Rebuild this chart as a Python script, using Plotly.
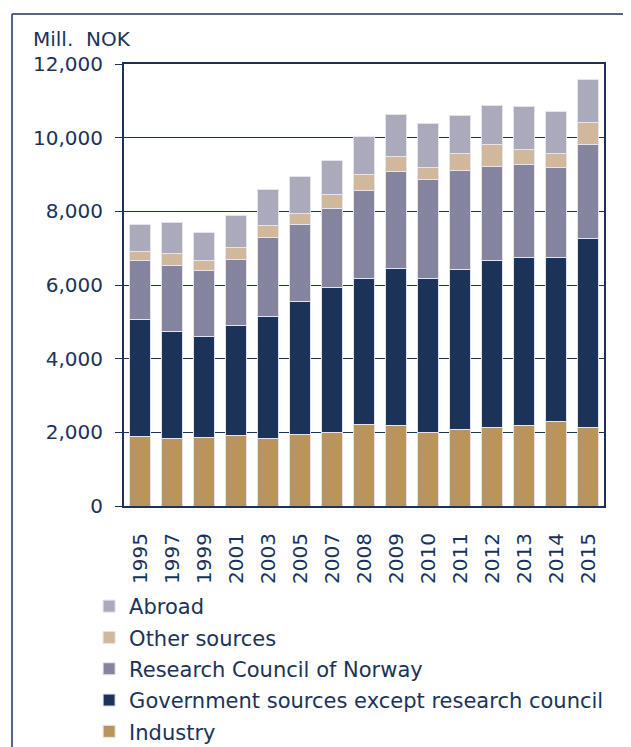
import plotly.graph_objects as go

# Funding of R&D, Mill. NOK
years = ["1995", "1997", "1999", "2001", "2003", "2005", "2007", "2008",
         "2009", "2010", "2011", "2012", "2013", "2014", "2015"]

industry = [1900, 1830, 1870, 1910, 1830, 1950, 1990, 2220,
            2190, 1990, 2070, 2140, 2190, 2300, 2140]
government = [3150, 2900, 2740, 2980, 3320, 3610, 3930, 3960,
              4250, 4200, 4360, 4530, 4560, 4440, 5110]
research_council = [1620, 1810, 1790, 1810, 2140, 2090, 2170, 2380,
                    2630, 2680, 2680, 2550, 2520, 2440, 2570]
other_sources = [230, 325, 270, 325, 320, 280, 360, 430,
                 410, 320, 470, 600, 410, 400, 600]
abroad = [750, 820, 750, 870, 985, 1020, 940, 1030,
          1150, 1190, 1030, 1060, 1160, 1140, 1170]

series = [
    ("Industry", industry, "#B9955D"),
    ("Government sources except research council", government, "#1B3359"),
    ("Research Council of Norway", research_council, "#84849F"),
    ("Other sources", other_sources, "#D1B89C"),
    ("Abroad", abroad, "#ABAABD"),
]

navy = "#1B3359"

fig = go.Figure()
for i, (name, vals, col) in enumerate(series):
    fig.add_trace(go.Bar(
        x=years, y=vals, name=name, legendgroup=name,
        legendrank=1000 - i,  # Abroad first in the legend
        marker=dict(color=col, line=dict(color="#E4E4EA", width=1)),
    ))

# the page has an 8px body margin, so the margins are set 8px smaller
fig.update_layout(
    barmode="stack",
    bargap=0.36,
    width=631, height=747,
    margin=dict(l=116, r=35, t=56, b=249, autoexpand=False),
    plot_bgcolor="white",
    paper_bgcolor="white",
    font=dict(family="DejaVu Sans", size=20, color=navy),
    legend=dict(
        traceorder="grouped",
        tracegroupgap=1,
        orientation="v",
        x=-0.0727, xanchor="left",
        y=-0.181, yanchor="top",
        font=dict(size=21, color=navy),
        itemwidth=30,
        bgcolor="rgba(0,0,0,0)",
    ),
    annotations=[dict(
        text="Mill.  NOK", xref="paper", yref="paper",
        x=-0.1937, y=1.0566, xanchor="left", yanchor="middle",
        showarrow=False, font=dict(size=20, color=navy),
    )],
    shapes=[
        dict(type="line", xref="paper", yref="paper",
             x0=-0.2333, x1=1.2, y0=1.113, y1=1.113,
             line=dict(color=navy, width=1.5)),
        dict(type="line", xref="paper", yref="paper",
             x0=-0.2333, x1=-0.2333, y0=-0.6, y1=1.113,
             line=dict(color=navy, width=1.5)),
    ],
)

fig.update_yaxes(
    range=[0, 12000], dtick=2000, tickformat=",",
    showgrid=True, gridcolor=navy, gridwidth=1,
    showline=True, linecolor=navy, linewidth=2, mirror=True,
    ticks="outside", ticklen=7, tickcolor=navy,
    ticklabelstandoff=8,
    zeroline=False, tickfont=dict(size=20),
)
fig.update_xaxes(
    tickangle=-90, showline=True, linecolor=navy, linewidth=2, mirror=True,
    ticks="", ticklabelstandoff=17, tickfont=dict(size=20),
)

fig.write_html("out.html")
